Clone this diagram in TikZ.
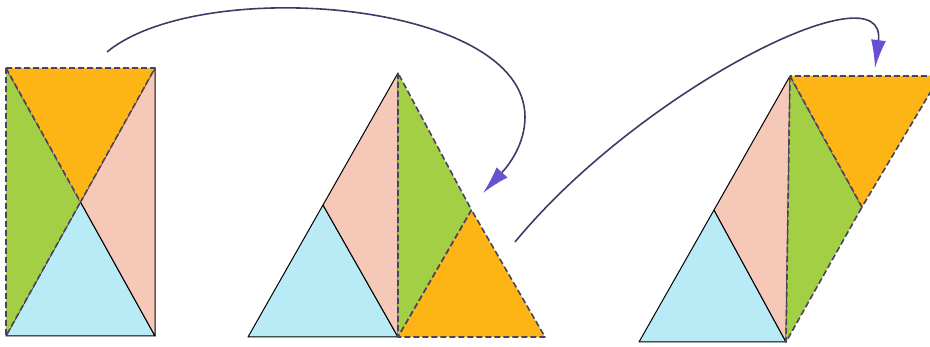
\documentclass[tikz,border=0pt]{standalone}
\usetikzlibrary{arrows.meta}

\definecolor{tanorange}{HTML}{FDB515}
\definecolor{tangreen}{HTML}{A3CF45}
\definecolor{tanpink}{HTML}{F5C8B8}
\definecolor{tanblue}{HTML}{B8EBF6}
\definecolor{cutline}{HTML}{4A4262}
\definecolor{arrowline}{HTML}{3E3C66}
\definecolor{arrowtip}{HTML}{6A50D0}

\begin{document}
\begin{tikzpicture}[x=1pt,y=-1pt,line join=round]
  \tikzstyle{fixed}=[draw=black,line width=1pt]
  \tikzstyle{moved}=[draw=cutline,line width=1.6pt,dash pattern=on 6pt off 3pt]
  \tikzstyle{move}=[draw=arrowline,line width=1.6pt,-{Latex[length=28pt,width=15pt,color=arrowtip]}]
  \useasboundingbox (0,0) rectangle (930,347);
  \clip (0,0) rectangle (930,347);

  % rectangle
  \coordinate (A1) at (6,68);
  \coordinate (B1) at (155,68);
  \coordinate (C1) at (155,336);
  \coordinate (D1) at (6,336);
  \coordinate (M1) at (80.5,202);
  \filldraw[fixed,fill=tanblue] (D1) -- (C1) -- (M1) -- cycle;
  \filldraw[fixed,fill=tanpink] (B1) -- (C1) -- (M1) -- cycle;
  \filldraw[moved,fill=tangreen] (A1) -- (D1) -- (M1) -- cycle;
  \filldraw[moved,fill=tanorange] (A1) -- (B1) -- (M1) -- cycle;

  % triangle
  \coordinate (T2) at (398,73);
  \coordinate (L2) at (248,337);
  \coordinate (Q2) at (323,205);
  \coordinate (O2) at (398,337);
  \coordinate (S2) at (471.5,210);
  \coordinate (E2) at (545,337);
  \filldraw[fixed,fill=tanblue] (L2) -- (O2) -- (Q2) -- cycle;
  \filldraw[fixed,fill=tanpink] (Q2) -- (O2) -- (T2) -- cycle;
  \filldraw[moved,fill=tangreen] (T2) -- (O2) -- (S2) -- cycle;
  \filldraw[moved,fill=tanorange] (S2) -- (O2) -- (E2) -- cycle;

  % parallelogram
  \coordinate (T3) at (790,76);
  \coordinate (L3) at (639,342);
  \coordinate (Q3) at (714,210);
  \coordinate (O3) at (786,342);
  \coordinate (S3) at (862,207);
  \coordinate (E3) at (940,76);
  \filldraw[fixed,fill=tanblue] (L3) -- (O3) -- (Q3) -- cycle;
  \filldraw[fixed,fill=tanpink] (Q3) -- (O3) -- (T3) -- cycle;
  \filldraw[moved,fill=tangreen] (T3) -- (O3) -- (S3) -- cycle;
  \filldraw[moved,fill=tanorange] (T3) -- (S3) -- (E3) -- cycle;

  % arrows
  \coordinate (a1s) at (107,52);
  \coordinate (a1m) at (525,117);
  \coordinate (a1e) at (483,193);
  \coordinate (a2s) at (515,242);
  \coordinate (a2e) at (875,68);
  \draw[move] (a1s) .. controls (200,-25) and (525,0) .. (a1m)
    .. controls (525,145) and (508,166) .. (a1e);
  \draw[move] (a2s) .. controls (640,90) and (888,-35) .. (a2e);
\end{tikzpicture}
\end{document}
